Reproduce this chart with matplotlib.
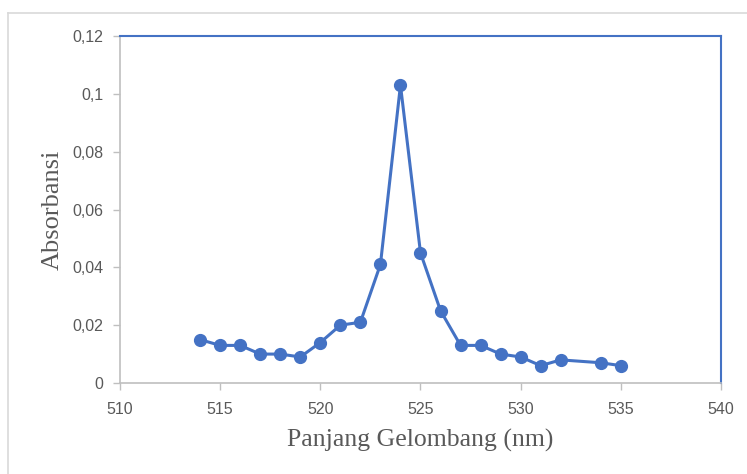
import matplotlib
matplotlib.use("Agg")
import matplotlib.pyplot as plt
from matplotlib.lines import Line2D
from matplotlib.ticker import FuncFormatter

wavelength = [514, 515, 516, 517, 518, 519, 520, 521, 522, 523, 524,
              525, 526, 527, 528, 529, 530, 531, 532, 534, 535]
absorbance = [0.015, 0.013, 0.013, 0.010, 0.010, 0.009, 0.014, 0.020, 0.021, 0.041, 0.103,
              0.045, 0.025, 0.013, 0.013, 0.010, 0.009, 0.006, 0.008, 0.007, 0.006]
x_ticks = [510, 515, 520, 525, 530, 535, 540]
y_ticks = [0, 0.02, 0.04, 0.06, 0.08, 0.10, 0.12]

blue = "#4472C4"
gray = "#BFBFBF"
text_gray = "#595959"

fig = plt.figure(figsize=(7.47, 4.74), dpi=100)
ax = fig.add_axes([120/747, 1-383/474, (721-120)/747, (383-36)/474])

ax.plot(wavelength, absorbance, color=blue, lw=2.2, marker="o", ms=8.5,
        markerfacecolor=blue, markeredgecolor=blue, clip_on=False, zorder=3)

ax.set_xlim(510, 540)
ax.set_ylim(0, 0.12)
ax.set_xticks(x_ticks)
ax.set_yticks(y_ticks)

def yfmt(v, pos):
    if abs(v) < 1e-12:
        return "0"
    s = ("%.2f" % v).rstrip("0")
    return s.replace(".", ",")

ax.yaxis.set_major_formatter(FuncFormatter(yfmt))
ax.tick_params(axis="both", direction="out", length=5, width=1, color=gray,
               labelcolor=text_gray, labelsize=11.5)
for lab in ax.get_xticklabels() + ax.get_yticklabels():
    lab.set_family("Liberation Sans")
ax.tick_params(axis="x", pad=9)
ax.tick_params(axis="y", pad=7)

ax.spines["left"].set_color(gray)
ax.spines["bottom"].set_color(gray)
ax.spines["left"].set_linewidth(1.2)
ax.spines["bottom"].set_linewidth(1.2)
ax.spines["top"].set_color(blue)
ax.spines["right"].set_color(blue)
ax.spines["top"].set_linewidth(1.5)
ax.spines["right"].set_linewidth(1.5)

ax.set_xlabel("Panjang Gelombang (nm)", family="Liberation Serif", fontsize=18.5,
              color=text_gray, labelpad=8)
ax.set_ylabel("Absorbansi", family="Liberation Serif", fontsize=19,
              color=text_gray, labelpad=6)

# chart-area border (light gray)
fig.add_artist(Line2D([8/747, 8/747], [0, 1-13/474], transform=fig.transFigure,
                      color="#D9D9D9", lw=1.2))
fig.add_artist(Line2D([8/747, 1], [1-13/474, 1-13/474], transform=fig.transFigure,
                      color="#D9D9D9", lw=1.2))

fig.savefig("out.png", dpi=100)
